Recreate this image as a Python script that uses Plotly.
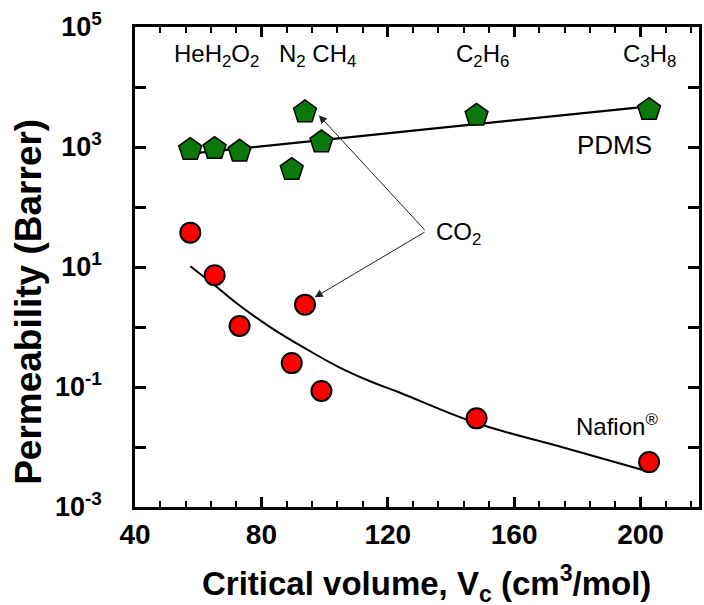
import numpy as np
import plotly.graph_objects as go

# Data
gases = ["He", "H2", "O2", "N2", "CO2", "CH4", "C2H6", "C3H8"]
vc = [57.5, 65.2, 73.1, 89.6, 93.8, 99.0, 148.1, 202.7]
pdms = [906, 940, 848, 420, 3830, 1211, 3374, 4200]
nafion = [37.4, 7.3, 1.04, 0.25, 2.36, 0.086, 0.030, 0.0056]

pdms_fit_x = [57.5, 202.7]
pdms_fit_y = [776, 4764]

nafion_fit_x = [57.5, 65.2, 73.0, 83.5, 94.0, 104.5, 115.0, 123.3, 148.0, 175.0, 203.0]
nafion_fit_y = [10.3, 4.95, 2.30, 0.94, 0.436, 0.215, 0.121, 0.0826, 0.0251, 0.0100, 0.00383]

gas_label_text = ["HeH<sub>2</sub>O<sub>2</sub>", "N<sub>2</sub> CH<sub>4</sub>",
                  "C<sub>2</sub>H<sub>6</sub>", "C<sub>3</sub>H<sub>8</sub>"]
gas_label_x = [51.6, 85.0, 141.0, 193.8]

ytick_vals = [1e-3, 1e-2, 1e-1, 1, 1e1, 1e2, 1e3, 1e4, 1e5]
ytick_text = ["10<sup>-3</sup>", "", "10<sup>-1</sup>", "", "10<sup>1</sup>", "",
              "10<sup>3</sup>", "", "10<sup>5</sup>"]
xtick_vals = [40, 80, 120, 160, 200]

co2_apex = (132.1, 10 ** 1.595)
co2_tips = [(98.2, 10 ** 3.528), (96.9, 10 ** 0.495)]

FONT = "Liberation Sans, Arial, sans-serif"

fig = go.Figure()
fig.add_trace(go.Scatter(x=pdms_fit_x, y=pdms_fit_y, mode="lines",
                         line=dict(color="black", width=2.2), showlegend=False))
fig.add_trace(go.Scatter(x=nafion_fit_x, y=nafion_fit_y, mode="lines",
                         line=dict(color="black", width=2, shape="spline", smoothing=1.1),
                         showlegend=False))
fig.add_trace(go.Scatter(x=vc, y=pdms, mode="markers",
                         marker=dict(symbol="pentagon", size=24, color="#0a780a",
                                     line=dict(color="black", width=1.5)),
                         showlegend=False))
fig.add_trace(go.Scatter(x=vc, y=nafion, mode="markers",
                         marker=dict(symbol="circle", size=20, color="#ff0000",
                                     line=dict(color="black", width=2)),
                         showlegend=False))

annotations = []
for t, x in zip(gas_label_text, gas_label_x):
    annotations.append(dict(x=x, y=4.53, xref="x", yref="y", text=t, showarrow=False,
                            xanchor="left", yanchor="middle",
                            font=dict(family=FONT, size=24, color="black")))

annotations.append(dict(x=179.3, y=5 - (145 - 26.7) / 60, xref="x", yref="y",
                        text="PDMS", showarrow=False, xanchor="left", yanchor="middle",
                        font=dict(family=FONT, size=26, color="black")))
annotations.append(dict(x=178.8, y=5 - (425 - 26.7) / 60, xref="x", yref="y",
                        text="Nafion<sup>®</sup>", showarrow=False, xanchor="left", yanchor="middle",
                        font=dict(family=FONT, size=24, color="black")))
annotations.append(dict(x=134.5, y=5 - (233 - 26.7) / 60, xref="x", yref="y",
                        text="CO<sub>2</sub>", showarrow=False, xanchor="left", yanchor="middle",
                        font=dict(family=FONT, size=24, color="black")))
for tx, ty in co2_tips:
    annotations.append(dict(x=tx, y=np.log10(ty), xref="x", yref="y",
                            ax=co2_apex[0], ay=np.log10(co2_apex[1]), axref="x", ayref="y",
                            text="", showarrow=True, arrowhead=2, arrowsize=1.6,
                            arrowwidth=1, arrowcolor="#222222"))

# Axis titles as annotations
annotations.append(dict(x=(428 - 135) / 567, y=-(583 - 506.7) / 480, xref="paper", yref="paper",
                        text="<b>Critical volume, V<sub>c</sub> (cm<sup>3</sup>/mol)</b>",
                        showarrow=False, xanchor="center", yanchor="middle",
                        font=dict(family=FONT, size=33, color="black")))
annotations.append(dict(x=-(135 - 28) / 567, y=(506.7 - 302) / 480, xref="paper", yref="paper",
                        text="<b>Permeability (Barrer)</b>", textangle=-90,
                        showarrow=False, xanchor="center", yanchor="middle",
                        font=dict(family=FONT, size=37, color="black")))

fig.update_layout(
    width=704, height=605,
    margin=dict(l=135, r=2, t=27, b=98),
    paper_bgcolor="white", plot_bgcolor="white",
    annotations=annotations,
    font=dict(family=FONT, color="black"),
)
fig.update_xaxes(
    range=[40, 218.5], showline=True, linecolor="black", linewidth=2.5, mirror="ticks",
    ticks="inside", ticklen=10, tickwidth=2.5, tickcolor="black",
    tickvals=xtick_vals, ticktext=["<b>%d</b>" % v for v in xtick_vals],
    tickfont=dict(family=FONT, size=28, color="black"),
    minor=dict(dtick=8, tick0=40, ticks="inside", ticklen=6, tickwidth=2, tickcolor="black"),
    showgrid=False, zeroline=False, ticklabelstandoff=1,
)
fig.update_yaxes(
    type="log", range=[-3, 5], showline=True, linecolor="black", linewidth=2.5, mirror="ticks",
    ticks="inside", ticklen=11, tickwidth=2.5, tickcolor="black",
    tickvals=ytick_vals, ticktext=["<b>" + t + "</b>" if t else "" for t in ytick_text],
    tickfont=dict(family=FONT, size=27, color="black"),
    showgrid=False, zeroline=False, ticklabelstandoff=25,
)

fig.write_html("out.html")
